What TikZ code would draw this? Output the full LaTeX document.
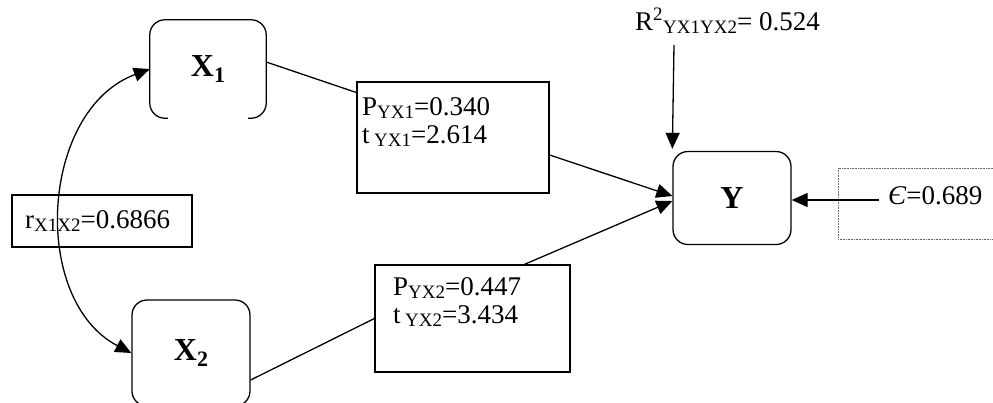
\documentclass[tikz,border=0pt]{standalone}
\usepackage{fontspec}
\setmainfont{Liberation Serif}
\usetikzlibrary{arrows.meta,calc}
\newcommand{\lowsub}[1]{\raisebox{-0.3ex}{\fontsize{19}{19}\selectfont #1}}
\newcommand{\boldsub}[1]{\raisebox{-0.35ex}{\fontsize{22}{22}\selectfont\bfseries #1}}
\tikzset{
  lbl/.style={font=\fontsize{27}{28}\selectfont, inner sep=0pt, align=left},
  varbox/.style={draw, rounded corners=15pt, line width=1.3pt, font=\fontsize{32}{32}\selectfont\bfseries},
  valbox/.style={draw, line width=1.3pt, inner sep=0pt},
  conn/.style={line width=1.3pt},
  arr/.style={line width=1.3pt, -{Triangle[length=16pt,width=14pt]}},
  darr/.style={line width=1.3pt, {Triangle[length=16pt,width=14pt]}-{Triangle[length=16pt,width=14pt]}},
}
\begin{document}
\begin{tikzpicture}[x=1pt,y=-1pt]
\useasboundingbox (0,0) rectangle (993,402);
\clip (0,0) rectangle (993,402);
% variable boxes
\node[inner sep=0pt, minimum width=116pt, minimum height=98pt, font=\fontsize{32}{32}\selectfont\bfseries] (x1) at (208,69) {X\boldsub{1}};
\draw[line width=1.3pt, rounded corners=15pt] ([xshift=18pt]x1.south west) -- (x1.south west) -- (x1.north west) -- (x1.north east) -- (x1.south east) -- ([xshift=-18pt]x1.south east);
\node[varbox, inner sep=0pt, minimum width=118pt, minimum height=106pt] (x2) at (191,353) {X\boldsub{2}};
\node[varbox, inner sep=0pt, minimum width=118pt, minimum height=93pt] (y) at (732,198) {Y};
% value boxes
\node[valbox, minimum width=192pt, minimum height=111pt] (p1) at (453,137.5) {};
\node[lbl, anchor=north west] (p1t) at (362,97) {P\lowsub{YX1}=0.340\\t\,\lowsub{YX1}=2.614};
\node[valbox, minimum width=195pt, minimum height=107pt] (p2) at (472.5,318.5) {};
\node[lbl, anchor=north west] (p2t) at (393,277) {P\lowsub{YX2}=0.447\\t\,\lowsub{YX2}=3.434};
\node[valbox, minimum width=180pt, minimum height=52pt] (r) at (102,221) {};
\node[lbl, anchor=base west] (rt) at (25,228) {r\lowsub{X1X2}=0.6866};
% R square
\node[lbl, anchor=base west] (r2) at (635,30) {R\textsuperscript{\fontsize{19}{19}\selectfont 2}\lowsub{YX1YX2}= 0.524};
\coordinate (r2top) at (674,45);
% epsilon
\node[draw, densely dotted, line width=0.6pt, gray!80!black, minimum width=170pt, minimum height=71pt] (ebox) at (923,203.5) {};
\node[lbl, anchor=base west] (et) at (888,204) {\textit{Є}=0.689};
\coordinate (es) at (879,200);
% connectors
\draw[darr] (x1.west) .. controls (40,110) and (30,300) .. (x2.west);
\draw[arr] (r2top) -- ([yshift=2pt]y.north west);
\draw[arr] (es) -- (es -| y.east);
\draw[conn] ([yshift=7pt]x1.east) -- ([yshift=45pt]p1.west);
\draw[arr] ([yshift=-17.5pt]p1.east) -- ([yshift=2pt]y.west);
\draw[conn] ([yshift=-27pt]x2.east) -- (p2.west);
\draw[arr] ([xshift=52pt]p2.north) -- ([yshift=-3pt]y.west);
\end{tikzpicture}
\end{document}
